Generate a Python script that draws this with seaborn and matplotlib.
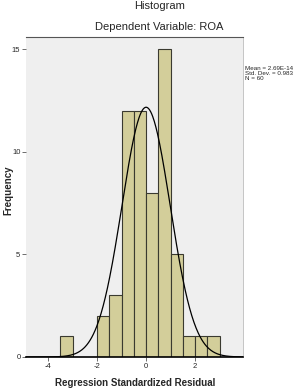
import numpy as np
import pandas as pd
import matplotlib
matplotlib.use("Agg")
import matplotlib.pyplot as plt
import seaborn as sns

# Data
bin_edges = [-3.5, -3.0, -2.5, -2.0, -1.5, -1.0, -0.5, 0.0, 0.5, 1.0, 1.5, 2.0, 2.5, 3.0]
counts = [1, 0, 0, 2, 3, 12, 12, 8, 15, 5, 1, 1, 1]
mean_val = 2.69e-14
std_val = 0.983
n_val = 60
stats_text = "Mean = 2.69E-14\nStd. Dev. = 0.983\nN = 60"
x_ticks = [-4, -2, 0, 2]
y_ticks = [0, 5, 10, 15]

sns.set_style("white")
plt.rcParams['font.family'] = ['Liberation Sans Narrow', 'Liberation Sans', 'DejaVu Sans']

fig = plt.figure(figsize=(2.93, 3.89), dpi=100)
ax = fig.add_axes([0.0887, 0.0823, 0.7403, 0.8226])
ax.set_facecolor("#EFEFEF")

centers = [(bin_edges[i] + bin_edges[i + 1]) / 2 for i in range(len(counts))]
df = pd.DataFrame({"resid": centers, "count": counts})
sns.histplot(data=df, x="resid", weights="count", bins=bin_edges, ax=ax,
             color="#D3CE9A", edgecolor="#3A3A30", linewidth=0.8, alpha=1.0)

xs = np.linspace(-4.9, 3.95, 400)
binw = 0.5
ys = n_val * binw / (std_val * np.sqrt(2 * np.pi)) * np.exp(-0.5 * ((xs - mean_val) / std_val) ** 2)
sns.lineplot(x=xs, y=ys, ax=ax, color="black", linewidth=0.9)

ax.set_xlim(-4.9, 3.95)
ax.set_ylim(0, 15.6)
ax.set_xticks(x_ticks)
ax.set_xticklabels([str(t) for t in x_ticks])
ax.set_yticks(y_ticks)
ax.set_yticklabels([str(t) for t in y_ticks])
ax.tick_params(axis="both", labelsize=5.5, length=3, width=0.6, direction="out",
               color="#555555", pad=1)
ax.tick_params(axis="x", bottom=True)
ax.tick_params(axis="y", left=True)

ax.spines["left"].set_visible(False)
ax.spines["top"].set_color("#555555")
ax.spines["top"].set_linewidth(0.8)
ax.spines["right"].set_color("#BBBBBB")
ax.spines["right"].set_linewidth(0.6)
ax.spines["bottom"].set_color("black")
ax.spines["bottom"].set_linewidth(1.2)

ax.set_xlabel("")
ax.set_ylabel("")
fig.text(0.461, 0.015, "Regression Standardized Residual", ha="center", va="center",
         fontsize=7, fontweight="bold")
fig.text(0.03, 0.51, "Frequency", ha="center", va="center", rotation=90,
         fontsize=7, fontweight="bold")

fig.text(0.543, 0.985, "Histogram", ha="center", va="center", fontsize=8)
fig.text(0.543, 0.93, "Dependent Variable: ROA", ha="center", va="center", fontsize=8)
fig.text(0.837, 0.812, stats_text, ha="left", va="center", fontsize=4.5, linespacing=1.0)

fig.savefig("out.png", dpi=100)
